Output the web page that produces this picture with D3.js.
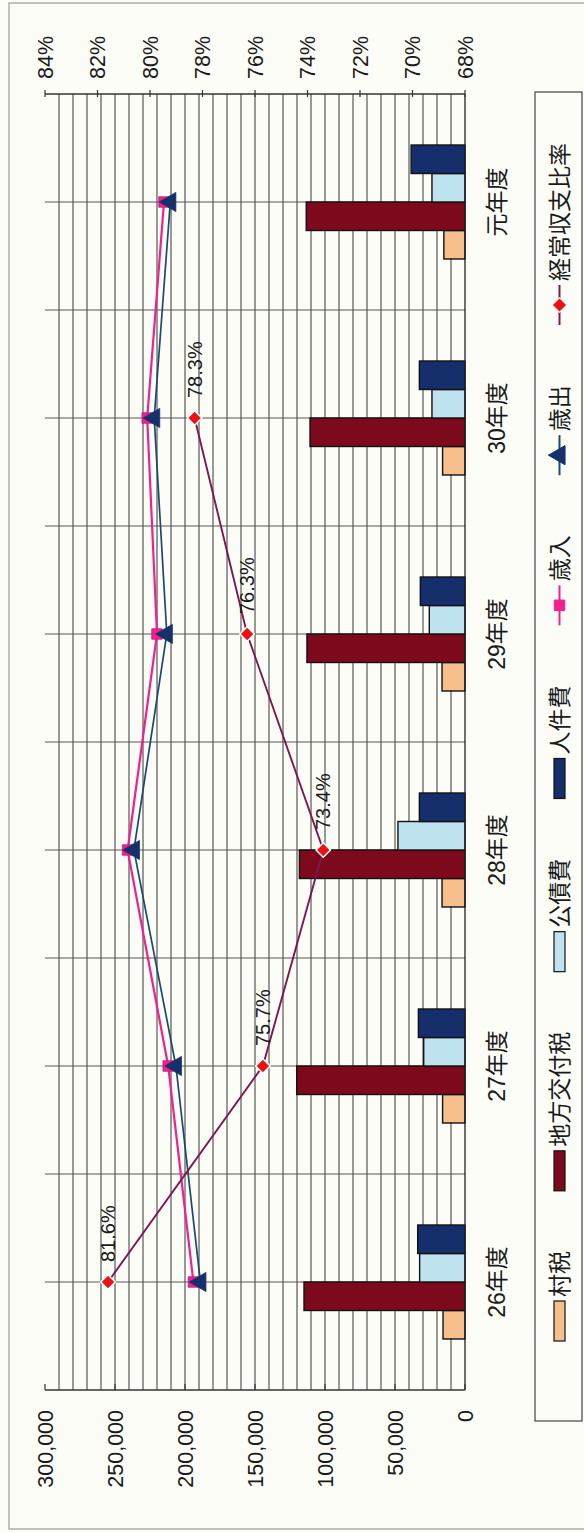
<!DOCTYPE html>
<html><head><meta charset="utf-8">
<script src="https://cdn.jsdelivr.net/npm/d3@7"></script>
<style>body{margin:0;background:#fdfdf7}svg{display:block}</style>
</head><body><svg id="c" width="584" height="1533"></svg>
<script>
const categories = ["26年度","27年度","28年度","29年度","30年度","元年度"];
const villageTax = [15700,16000,16400,16400,16000,15100];
const localAllocationTax = [115000,120200,118300,112900,110700,113400];
const debtService = [32400,29500,47900,25500,23600,23600];
const personnelCost = [33800,33300,32600,31900,32600,38500];
const revenue = [194000,212000,241000,220000,227000,215000];
const expenditure = [189000,206500,236500,213000,222000,210500];
const ratio = [81.6,75.7,73.4,76.3,78.3,null];
const valueTicks = [0,50000,100000,150000,200000,250000,300000];
const percentTicks = [68,70,72,74,76,78,80,82,84];
const barSeriesNames = ["村税","地方交付税","公債費","人件費"];
const lineSeriesNames = ["歳入","歳出","経常収支比率"];

const barColors = ["#f7bf8c","#7d0a1c","#bfe4f0","#142f6b"];
const FONT = "'Liberation Sans', Arial, 'Noto Sans CJK JP', sans-serif";

const svg = d3.select("#c");
svg.append("rect").attr("x",0).attr("y",0).attr("width",584).attr("height",1533).attr("fill","#fdfdf7");
svg.append("rect").attr("x",9).attr("y",3).attr("width",600).attr("height",1526)
  .attr("fill","none").attr("stroke","#9a9a9a").attr("stroke-width",1.2);

// local landscape frame, rotated
const g = svg.append("g").attr("transform","translate(0,1533) rotate(-90)");

const X0 = 143, X1 = 1439;
const x = d3.scaleBand().domain(categories).range([X0, X1]).padding(0);
const groupW = 114;
const xi = d3.scaleBand().domain(barSeriesNames).range([0, groupW]).padding(0);
const y = d3.scaleLinear().domain([0,300000]).range([465,45]);
const yp = d3.scaleLinear().domain([68,84]).range([465,45]);

// value gridlines every 10,000
const grid = d3.range(10000, 300000, 10000);
g.append("g").selectAll("line").data(grid).join("line")
  .attr("x1",X0).attr("x2",X1).attr("y1",d=>y(d)).attr("y2",d=>y(d))
  .attr("stroke","#353535").attr("stroke-width",1);

// category lines (boundaries and centres)
const bounds = categories.slice(1).map(c=>x(c));
g.append("g").selectAll("line").data(bounds).join("line")
  .attr("x1",d=>d).attr("x2",d=>d).attr("y1",y(300000)).attr("y2",y(0))
  .attr("stroke","#555").attr("stroke-width",1);
g.append("g").selectAll("line").data(categories).join("line")
  .attr("x1",d=>x(d)+x.bandwidth()/2).attr("x2",d=>x(d)+x.bandwidth()/2)
  .attr("y1",y(300000)).attr("y2",y(0))
  .attr("stroke","#555").attr("stroke-width",1);

// bars
const barData = [villageTax, localAllocationTax, debtService, personnelCost];
const bg = g.append("g");
categories.forEach((c,i)=>{
  const off = x(c) + (x.bandwidth()-groupW)/2;
  barSeriesNames.forEach((s,j)=>{
    const v = barData[j][i];
    bg.append("rect")
      .attr("x", off + xi(s)).attr("width", xi.bandwidth())
      .attr("y", y(v)).attr("height", y(0)-y(v))
      .attr("fill", barColors[j]).attr("stroke","#111").attr("stroke-width",1.4);
  });
});

// axes lines
g.append("line").attr("x1",X0).attr("x2",X1).attr("y1",y(0)).attr("y2",y(0)).attr("stroke","#222").attr("stroke-width",1.3);
g.append("line").attr("x1",X0).attr("x2",X0).attr("y1",y(300000)).attr("y2",y(0)).attr("stroke","#333").attr("stroke-width",1.3);
g.append("line").attr("x1",X1).attr("x2",X1).attr("y1",y(300000)).attr("y2",y(0)).attr("stroke","#333").attr("stroke-width",1.3);
g.append("g").selectAll("line").data(valueTicks).join("line")
  .attr("x1",X0).attr("x2",X0+6).attr("y1",d=>y(d)).attr("y2",d=>y(d)).attr("stroke","#333").attr("stroke-width",1.2);
g.append("g").selectAll("line").data(percentTicks).join("line")
  .attr("x1",X1-3).attr("x2",X1+4).attr("y1",d=>yp(d)).attr("y2",d=>yp(d)).attr("stroke","#333").attr("stroke-width",1.2);

// axis labels
const fmt = d3.format(",");
g.append("g").selectAll("text").data(valueTicks).join("text")
  .attr("x",123).attr("y",d=>y(d)).attr("dy","0.36em").attr("text-anchor","end")
  .attr("font-family",FONT).attr("font-size",21.5).attr("fill","#1a1a1a").text(d=>fmt(d));
g.append("g").selectAll("text").data(percentTicks).join("text")
  .attr("x",1454).attr("y",d=>yp(d)).attr("dy","0.36em").attr("text-anchor","start")
  .attr("font-family",FONT).attr("font-size",21.5).attr("fill","#1a1a1a").text(d=>d+"%");
g.append("g").selectAll("text").data(categories).join("text")
  .attr("x",d=>x(d)+x.bandwidth()/2).attr("y",497).attr("dy","0.36em").attr("text-anchor","middle")
  .attr("font-family",FONT).attr("font-size",23).attr("fill","#1a1a1a").text(d=>d);

// lines
const cx = c => x(c)+x.bandwidth()/2;
const lineGen = (scale) => d3.line().defined(d=>d.v!=null).x(d=>cx(d.c)).y(d=>scale(d.v));
const revData = categories.map((c,i)=>({c, v:revenue[i]}));
const expData = categories.map((c,i)=>({c, v:expenditure[i]}));
const ratData = categories.map((c,i)=>({c, v:ratio[i]}));

g.append("path").datum(revData).attr("d",lineGen(y)).attr("fill","none").attr("stroke","#f0208c").attr("stroke-width",2.2);
g.append("path").datum(expData).attr("d",lineGen(y)).attr("fill","none").attr("stroke","#1b4a6e").attr("stroke-width",1.7);
g.append("path").datum(ratData).attr("d",lineGen(yp)).attr("fill","none").attr("stroke","#7e1650").attr("stroke-width",1.9);

const sq = d3.symbol().type(d3.symbolSquare).size(110);
const tri = d3.symbol().type(d3.symbolTriangle).size(160);
const dia = d3.symbol().type(d3.symbolSquare).size(105);

g.append("g").selectAll("path").data(revData).join("path")
  .attr("d",sq).attr("transform",d=>`translate(${cx(d.c)},${y(d.v)})`)
  .attr("fill","#f0208c").attr("stroke","#d01478").attr("stroke-width",0.8);
g.append("g").selectAll("path").data(expData).join("path")
  .attr("d",tri).attr("transform",d=>`translate(${cx(d.c)},${y(d.v)})`)
  .attr("fill","#15306a").attr("stroke","#15306a").attr("stroke-width",0.8);
g.append("g").selectAll("path").data(ratData.filter(d=>d.v!=null)).join("path")
  .attr("d",dia).attr("transform",d=>`translate(${cx(d.c)},${yp(d.v)}) rotate(45)`)
  .attr("fill","#ee1111").attr("stroke","#fff").attr("stroke-width",1.5);
g.append("g").selectAll("text").data(ratData.filter(d=>d.v!=null)).join("text")
  .attr("x",d=>cx(d.c)+20).attr("y",d=>yp(d.v)).attr("dy","0.36em")
  .attr("font-family",FONT).attr("font-size",20).attr("fill","#1a1a1a")
  .text(d=>d.v.toFixed(1)+"%");

// legend
const LX0 = 112, LX1 = 1441, LY0 = 535, LY1 = 582;
g.append("rect").attr("x",LX0).attr("y",LY0).attr("width",LX1-LX0).attr("height",LY1-LY0)
  .attr("fill","none").attr("stroke","#444").attr("stroke-width",1.2);
const items = barSeriesNames.map((n,i)=>({n, type:"bar", color:barColors[i]}))
  .concat([{n:lineSeriesNames[0],type:"sq",color:"#f0208c"},
           {n:lineSeriesNames[1],type:"tri",color:"#15306a",line:"#1b4a6e"},
           {n:lineSeriesNames[2],type:"dia",color:"#ee1111",line:"#7e1650"}]);
const lg = g.append("g");
const symW = 40, gap = 4, LY = 559.5;
const texts = items.map(it=>{
  const t = lg.append("text").attr("y",LY).attr("dy","0.36em")
    .attr("font-family",FONT).attr("font-size",23).attr("fill","#1a1a1a").text(it.n);
  return t;
});
const widths = texts.map(t=>t.node().getComputedTextLength());
const startX = 192, endX = 1390;
const totalFixed = d3.sum(widths) + items.length*(symW+gap);
const spacing = (endX-startX-totalFixed)/(items.length-1);
let cur = startX;
items.forEach((it,i)=>{
  if(it.type==="bar"){
    lg.append("rect").attr("x",cur).attr("y",LY-5.5).attr("width",symW).attr("height",11)
      .attr("fill",it.color).attr("stroke","#111").attr("stroke-width",1.2);
  } else {
    lg.append("line").attr("x1",cur).attr("x2",cur+symW).attr("y1",LY).attr("y2",LY)
      .attr("stroke",it.line||it.color).attr("stroke-width",2);
    const sym = it.type==="sq"?sq:it.type==="tri"?tri:dia;
    lg.append("path").attr("d",sym)
      .attr("transform",`translate(${cur+symW/2},${LY})`+(it.type==="dia"?" rotate(45)":""))
      .attr("fill",it.color).attr("stroke",it.type==="dia"?"#fff":it.color).attr("stroke-width",1);
  }
  texts[i].attr("x",cur+symW+gap);
  cur += symW+gap+widths[i]+spacing;
});
</script></body></html>
